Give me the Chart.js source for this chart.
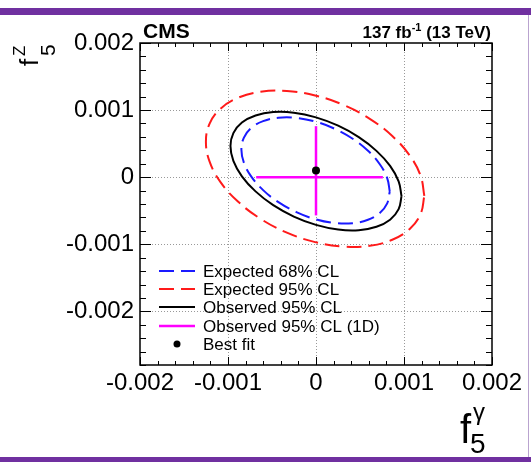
<!DOCTYPE html>
<html>
<head>
<meta charset="utf-8">
<script src="https://cdn.jsdelivr.net/npm/chart.js@4.4.0/dist/chart.umd.min.js"></script>
<style>
  html, body { margin: 0; padding: 0; background: #fff; }
  #wrap { position: relative; width: 531px; height: 462px; overflow: hidden; }
  #wrap canvas { position: absolute; left: 0; top: 0; }
  .bar { position: absolute; left: 0; width: 531px; background: #7030a0; }
  #edge { position: absolute; left: 528px; top: 15px; width: 1px; height: 442px; background: #b9a3cf; }
</style>
</head>
<body>
<div id="wrap">
  <canvas id="chart" width="531" height="462"></canvas>
  <div class="bar" style="top:8px;height:7px"></div>
  <div class="bar" style="top:457px;height:5px"></div>
  <div id="edge"></div>
</div>
<script>
// axis ticks
const xTicks = [-0.002, -0.001, 0, 0.001, 0.002];
const xTickLabels = ['-0.002', '-0.001', '0', '0.001', '0.002'];
const yTicks = [-0.002, -0.001, 0, 0.001, 0.002];
const yTickLabels = ['-0.002', '-0.001', '0', '0.001', '0.002'];
const minorStep = 0.0002;

// expected 68% CL contour (f5 gamma, f5 Z)
const exp68X = [0.000838, 0.000809, 0.000725, 0.000591, 0.000417, 0.000213, -0.000005, -0.000223, -0.000427, -0.000601, -0.000735, -0.000819,
                -0.000848, -0.000819, -0.000735, -0.000601, -0.000427, -0.000223, -0.000005, 0.000213, 0.000417, 0.000591, 0.000725, 0.000809];
const exp68Y = [-0.000213, -0.000014, 0.000193, 0.000393, 0.000573, 0.000721, 0.000827, 0.000883, 0.000886, 0.000835, 0.000734, 0.000590,
                0.000413, 0.000214, 0.000007, -0.000193, -0.000373, -0.000521, -0.000627, -0.000683, -0.000686, -0.000635, -0.000534, -0.000390];

// expected 95% CL contour
const exp95X = [0.001231, 0.001189, 0.001065, 0.000867, 0.000611, 0.000311, -0.000010, -0.000331, -0.000631, -0.000887, -0.001085, -0.001209,
                -0.001251, -0.001209, -0.001085, -0.000887, -0.000631, -0.000331, -0.000010, 0.000311, 0.000611, 0.000867, 0.001065, 0.001189];
const exp95Y = [-0.000278, 0.000019, 0.000323, 0.000613, 0.000870, 0.001077, 0.001218, 0.001285, 0.001273, 0.001183, 0.001021, 0.000797,
                0.000528, 0.000231, -0.000073, -0.000363, -0.000620, -0.000827, -0.000968, -0.001035, -0.001023, -0.000933, -0.000771, -0.000547];

// observed 95% CL contour
const obs95X = [0.000972, 0.000939, 0.000842, 0.000687, 0.000486, 0.000252, 0, -0.000252, -0.000486, -0.000687, -0.000842, -0.000939,
                -0.000972, -0.000939, -0.000842, -0.000687, -0.000486, -0.000252, 0, 0.000252, 0.000486, 0.000687, 0.000842, 0.000939];
const obs95Y = [-0.000283, -0.000063, 0.000168, 0.000392, 0.000597, 0.000767, 0.000891, 0.000961, 0.000970, 0.000920, 0.000814, 0.000657,
                0.000463, 0.000243, 0.000013, -0.000212, -0.000418, -0.000587, -0.000711, -0.000781, -0.000791, -0.000740, -0.000634, -0.000477];

// observed 95% CL 1D intervals
const obs1dGamma = [-0.00068, 0.00076];
const obs1dZ = [-0.00057, 0.00076];

const bestFitX = [0];
const bestFitY = [0.0001];

const FONT = "'Liberation Sans', Arial, Helvetica, sans-serif";

function closedPath(xs, ys) {
    const pts = xs.map((x, i) => ({ x: x, y: ys[i] }));
    pts.push(pts[0]);
    return pts;
}

function isMajor(v) {
    return Math.abs(Math.round(v / 0.001) * 0.001 - v) < 1e-9;
}

const contourStyle = { showLine: true, pointRadius: 0, borderWidth: 2, tension: 0.4, fill: false };

const datasets = [
    { label: 'Best fit', data: bestFitX.map((x, i) => ({ x: x, y: bestFitY[i] })),
      pointRadius: 4, pointBackgroundColor: '#000', pointBorderWidth: 0, showLine: false },
    { label: 'Observed 95% CL (1D)', data: [{ x: obs1dGamma[0], y: 0 }, { x: obs1dGamma[1], y: 0 }],
      showLine: true, pointRadius: 0, borderColor: '#ff00ff', borderWidth: 2.5 },
    { label: 'Observed 95% CL (1D)', data: [{ x: 0, y: obs1dZ[0] }, { x: 0, y: obs1dZ[1] }],
      showLine: true, pointRadius: 0, borderColor: '#ff00ff', borderWidth: 2.5 },
    Object.assign({ label: 'Observed 95% CL', data: closedPath(obs95X, obs95Y), borderColor: '#000' }, contourStyle),
    Object.assign({ label: 'Expected 95% CL', data: closedPath(exp95X, exp95Y), borderColor: '#ff1a1a', borderDash: [15, 7] }, contourStyle),
    Object.assign({ label: 'Expected 68% CL', data: closedPath(exp68X, exp68Y), borderColor: '#1a1aff', borderDash: [15, 7] }, contourStyle)
];

// dotted grid under the data
const gridPlugin = {
    id: 'rootGrid',
    beforeDatasetsDraw(chart) {
        const { ctx, chartArea: a, scales: { x, y } } = chart;
        ctx.save();
        ctx.strokeStyle = '#999';
        ctx.lineWidth = 1;
        ctx.setLineDash([1, 2]);
        xTicks.forEach(v => {
            const px = Math.round(x.getPixelForValue(v)) + 0.5;
            if (px <= a.left + 1 || px >= a.right - 1) return;
            ctx.beginPath(); ctx.moveTo(px, a.top); ctx.lineTo(px, a.bottom); ctx.stroke();
        });
        yTicks.forEach(v => {
            const py = Math.round(y.getPixelForValue(v)) + 0.5;
            if (py <= a.top + 1 || py >= a.bottom - 1) return;
            ctx.beginPath(); ctx.moveTo(a.left, py); ctx.lineTo(a.right, py); ctx.stroke();
        });
        ctx.restore();
    }
};

// frame with inward ticks on all four sides, legend and labels
const framePlugin = {
    id: 'rootFrame',
    afterDraw(chart) {
        const { ctx, chartArea: a, scales: { x, y } } = chart;
        ctx.save();
        ctx.strokeStyle = '#000';
        ctx.lineWidth = 1;
        for (let v = x.min; v <= x.max + 1e-9; v += minorStep) {
            const px = Math.round(x.getPixelForValue(v)) + 0.5;
            const len = isMajor(v) ? 8 : 4;
            ctx.beginPath();
            ctx.moveTo(px, a.bottom); ctx.lineTo(px, a.bottom - len);
            ctx.moveTo(px, a.top); ctx.lineTo(px, a.top + len);
            ctx.stroke();
        }
        for (let v = y.min; v <= y.max + 1e-9; v += minorStep) {
            const py = Math.round(y.getPixelForValue(v)) + 0.5;
            const len = isMajor(v) ? 11 : 6;
            ctx.beginPath();
            ctx.moveTo(a.left, py); ctx.lineTo(a.left + len, py);
            ctx.moveTo(a.right, py); ctx.lineTo(a.right - len, py);
            ctx.stroke();
        }
        ctx.lineWidth = 1.5;
        ctx.strokeRect(a.left, a.top, a.right - a.left, a.bottom - a.top);

        // legend
        const rows = [
            { ds: 5, y: 271 }, { ds: 4, y: 289 }, { ds: 3, y: 307 }, { ds: 1, y: 326 }, { ds: 0, y: 344 }
        ];
        ctx.font = '17px ' + FONT;
        ctx.textBaseline = 'middle';
        ctx.textAlign = 'left';
        ctx.fillStyle = '#000';
        rows.forEach(r => {
            const d = chart.data.datasets[r.ds];
            if (d.showLine) {
                ctx.strokeStyle = d.borderColor;
                ctx.lineWidth = d.borderWidth;
                ctx.setLineDash(d.borderDash || []);
                ctx.beginPath(); ctx.moveTo(159, r.y); ctx.lineTo(195, r.y); ctx.stroke();
                ctx.setLineDash([]);
            } else {
                ctx.beginPath(); ctx.arc(177, r.y, 3.5, 0, Math.PI * 2); ctx.fill();
            }
            ctx.fillText(d.label, 203, r.y + 1);
        });

        // header
        ctx.textBaseline = 'alphabetic';
        ctx.font = 'bold 21px ' + FONT;
        ctx.fillText('CMS', 143, 38);
        let rx = 491;
        ctx.textAlign = 'right';
        ctx.font = 'bold 17px ' + FONT;
        ctx.fillText(' (13 TeV)', rx, 38);
        rx -= ctx.measureText(' (13 TeV)').width;
        ctx.font = 'bold 11px ' + FONT;
        ctx.fillText('-1', rx, 31);
        rx -= ctx.measureText('-1').width;
        ctx.font = 'bold 17px ' + FONT;
        ctx.fillText('137 fb', rx, 38);

        // x title
        ctx.textAlign = 'left';
        ctx.font = '40px ' + FONT;
        ctx.fillText('f', 460, 443);
        ctx.font = '24px ' + FONT;
        ctx.fillText('\u03b3', 473, 420);
        ctx.font = '28px ' + FONT;
        ctx.fillText('5', 470, 453);

        // y title, reading upwards
        ctx.translate(38, 66);
        ctx.rotate(-Math.PI / 2);
        ctx.font = '26px ' + FONT;
        ctx.fillText('f', 0, 0);
        ctx.font = '17px ' + FONT;
        ctx.fillText('Z', 10, -13);
        ctx.font = '21px ' + FONT;
        ctx.fillText('5', 10, 17);
        ctx.restore();
    }
};

const ctx = document.getElementById('chart').getContext('2d');

const chart = new Chart(ctx, {
    type: 'scatter',
    data: { datasets: datasets },
    options: {
        responsive: false,
        animation: false,
        layout: { padding: { top: 43, right: 39, left: 0, bottom: 0 } },
        plugins: { legend: { display: false }, tooltip: { enabled: false } },
        scales: {
            x: {
                type: 'linear',
                min: -0.002,
                max: 0.002,
                afterBuildTicks: s => { s.ticks = xTicks.map(v => ({ value: v })); },
                afterFit: s => { s.height = 97; },
                ticks: {
                    callback: (v, i) => xTickLabels[i],
                    font: { family: FONT, size: 24 },
                    color: '#000',
                    padding: 4,
                    maxRotation: 0,
                    autoSkip: false
                },
                grid: { display: false, drawTicks: false },
                border: { display: false }
            },
            y: {
                type: 'linear',
                min: -0.0028,
                max: 0.002,
                afterBuildTicks: s => { s.ticks = yTicks.map(v => ({ value: v })); },
                afterFit: s => { s.width = 140; },
                ticks: {
                    callback: (v, i) => yTickLabels[i],
                    font: { family: FONT, size: 24 },
                    color: '#000',
                    padding: 6,
                    autoSkip: false
                },
                grid: { display: false, drawTicks: false },
                border: { display: false }
            }
        }
    },
    plugins: [gridPlugin, framePlugin]
});
</script>
</body>
</html>
